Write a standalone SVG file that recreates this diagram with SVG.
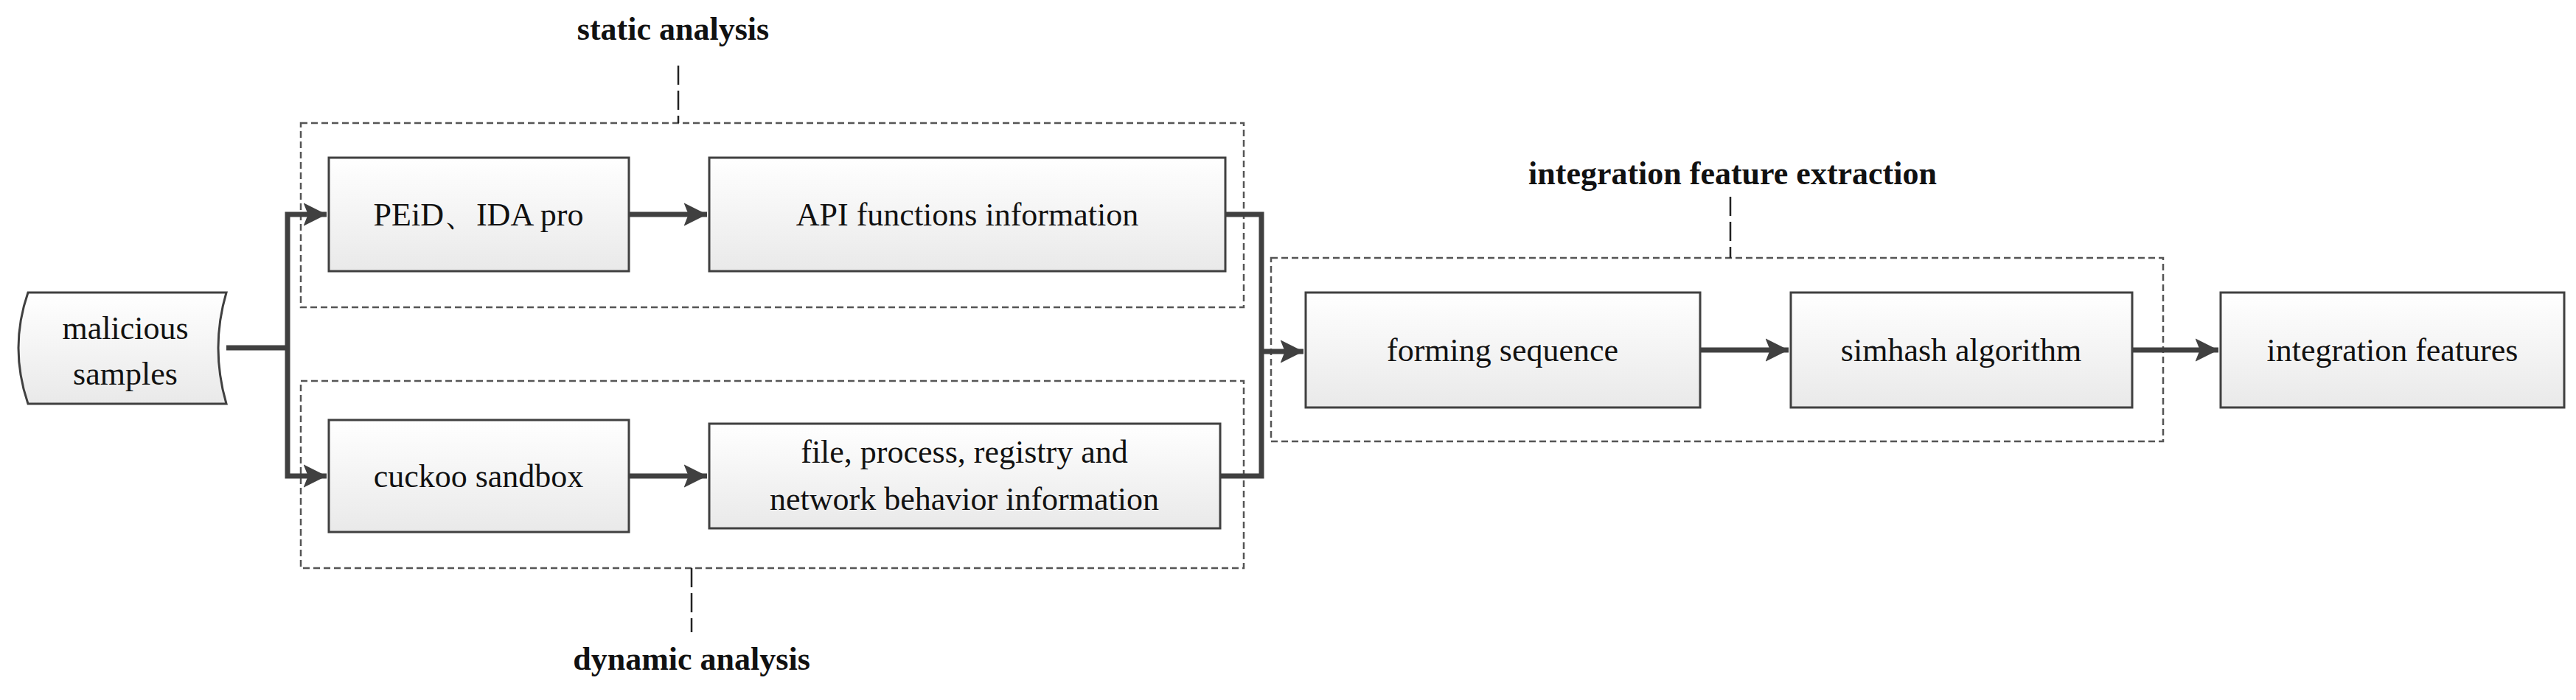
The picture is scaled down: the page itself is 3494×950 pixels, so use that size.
<svg xmlns="http://www.w3.org/2000/svg" width="3494" height="950" viewBox="0 0 3494 950">
<style>
.box{fill:url(#g);stroke:#404040;stroke-width:3}
.grp{fill:none;stroke:#555;stroke-width:2.5;stroke-dasharray:9 5}
.tick{fill:none;stroke:#222;stroke-width:2.5;stroke-dasharray:26 8}
.t{font-family:"Liberation Serif",serif;font-size:44px;fill:#111;text-anchor:middle}
.b{font-weight:bold}
.c{fill:none;stroke:#404040;stroke-width:7}
</style>
<defs>
<linearGradient id="g" x1="0" y1="0" x2="0" y2="1"><stop offset="0" stop-color="#ffffff"/><stop offset="1" stop-color="#e9e9e9"/></linearGradient>
<marker id="a" viewBox="0 0 10 10" refX="10" refY="5" markerWidth="4.5" markerHeight="4.5" orient="auto" markerUnits="strokeWidth"><path d="M0,0 L10,5 L0,10 L2,5 z" fill="#404040"/></marker>
</defs>
<g id="static-group"><rect class="grp" x="408" y="167" width="1279" height="250"/><path class="tick" d="M920 89V167"/><text class="t b" x="913" y="54">static analysis</text></g>
<g id="dynamic-group"><rect class="grp" x="408" y="517" width="1279" height="254"/><path class="tick" d="M938 771V858"/><text class="t b" x="938" y="909">dynamic analysis</text></g>
<g id="integration-group"><rect class="grp" x="1724" y="350" width="1210" height="249"/><path class="tick" d="M2347 267V350"/><text class="t b" x="2350" y="250">integration feature extraction</text></g>
<g id="malicious"><path class="box" d="M38 397H307Q285 472 307 548H38Q12 472 38 397Z"/><text class="t" x="170" y="460">malicious</text><text class="t" x="170" y="522">samples</text></g>
<g id="peid"><rect class="box" x="446" y="214" width="407" height="154"/><text class="t" x="649" y="306">PEiD、IDA pro</text></g>
<g id="api"><rect class="box" x="962" y="214" width="700" height="154"/><text class="t" x="1312" y="306">API functions information</text></g>
<g id="cuckoo"><rect class="box" x="446" y="570" width="407" height="152"/><text class="t" x="649" y="661">cuckoo sandbox</text></g>
<g id="behavior"><rect class="box" x="962" y="575" width="693" height="142"/><text class="t" x="1308" y="628">file, process, registry and</text><text class="t" x="1308" y="692">network behavior information</text></g>
<g id="forming"><rect class="box" x="1771" y="397" width="535" height="156"/><text class="t" x="2038" y="490">forming sequence</text></g>
<g id="simhash"><rect class="box" x="2429" y="397" width="463" height="156"/><text class="t" x="2660" y="490">simhash algorithm</text></g>
<g id="features"><rect class="box" x="3012" y="397" width="466" height="156"/><text class="t" x="3245" y="490">integration features</text></g>
<g id="connectors">
<path class="c" d="M307 472H390"/>
<path class="c" d="M390 472V291H443" marker-end="url(#a)"/>
<path class="c" d="M390 472V646H443" marker-end="url(#a)"/>
<path class="c" d="M853 291H959" marker-end="url(#a)"/>
<path class="c" d="M853 646H959" marker-end="url(#a)"/>
<path class="c" d="M1662 291H1711V646H1655"/>
<path class="c" d="M1711 477H1768" marker-end="url(#a)"/>
<path class="c" d="M2306 475H2426" marker-end="url(#a)"/>
<path class="c" d="M2892 475H3009" marker-end="url(#a)"/>
</g>
</svg>
